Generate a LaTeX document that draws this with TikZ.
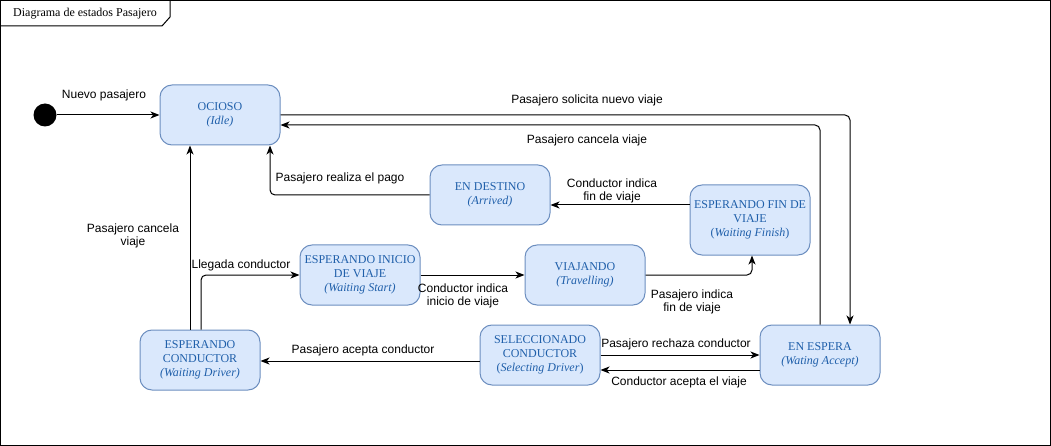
\documentclass[tikz,border=0pt]{standalone}
\usepackage{fontspec}
\setmainfont{Liberation Serif}
\setsansfont{Liberation Sans}
\usetikzlibrary{arrows.meta}
\definecolor{stfill}{HTML}{DAE8FC}
\definecolor{stdraw}{HTML}{6C8EBF}
\definecolor{sttext}{HTML}{1F5FAA}

\begin{document}
\begin{tikzpicture}[x=1pt,y=-1pt,line width=1pt,
    estado/.style={draw=stdraw,fill=stfill,rounded corners=12pt,minimum width=120pt,
      minimum height=60pt,align=center,text=sttext,inner sep=1pt,
      font=\fontsize{12}{14}\selectfont},
    etq/.style={font=\sffamily\fontsize{12}{13.5}\selectfont,align=center,inner sep=1pt},
    flecha/.style={-{Stealth[length=9pt,width=7pt,inset=2.5pt]},rounded corners=5pt}]
      \useasboundingbox (0,0) rectangle (1051,446);
      % marco y pestana del titulo
      \draw (0.5,0.5) rectangle (1050.5,445.5);
      \draw (0.5,26) -- (162,26) -- (170,17) -- (170,0.5);
      \node[font=\fontsize{12}{14}\selectfont] (titulo) at (85,14) {Diagrama de estados Pasajero};
      % estados
      \fill (45,115) circle (11.5) coordinate (inicio);
      \node[estado] (ocioso) at (220,115) {OCIOSO\\\textit{(Idle)}};
      \node[estado] (destino) at (490,195) {EN DESTINO\\\textit{(Arrived)}};
      \node[estado,minimum height=70pt] (espfin) at (750,220) {ESPERANDO FIN DE\\VIAJE\\(\textit{Waiting Finish})};
      \node[estado] (espini) at (360,275) {ESPERANDO INICIO\\DE VIAJE\\\textit{(Waiting Start)}};
      \node[estado] (viajando) at (585,275) {VIAJANDO\\\textit{(Travelling)}};
      \node[estado] (espcond) at (200,360) {ESPERANDO\\CONDUCTOR\\\textit{(Waiting Driver)}};
      \node[estado] (selcond) at (540,355) {SELECCIONADO\\CONDUCTOR\\(\textit{Selecting Driver})};
      \node[estado] (espera) at (820,355) {EN ESPERA\\\textit{(Wating Accept)}};
      % transiciones
      \draw[flecha] (56.5,115) -- (ocioso.west);
      \draw[flecha] (ocioso.east) -- (850,115) -- (espera.north -| 850,0);
      \draw[flecha] (espera.north -| 820,0) -- (820,125) -- (ocioso.east |- 820,125);
      \draw[flecha] (destino.west) -- (270,195) -- (ocioso.south -| 270,0);
      \draw[flecha] (espfin.west |- 0,205) -- (destino.east |- 0,205);
      \draw[flecha] (viajando.east) -- (752,275) -- (espfin.south -| 752,0);
      \draw[flecha] (espini.east) -- (viajando.west);
      \draw[flecha] (espcond.north -| 201,0) -- (201,275) -- (espini.west);
      \draw[flecha] (espcond.north -| 190,0) -- (ocioso.south -| 190,0);
      \draw[flecha] (selcond.west |- 0,361) -- (espcond.east |- 0,361);
      \draw[flecha] (selcond.east) -- (espera.west);
      \draw[flecha] (espera.west |- 0,370) -- (selcond.east |- 0,370);
      % etiquetas
      \node[etq] (lnuevo) at (104,95) {Nuevo pasajero};
      \node[etq] (lsolicita) at (587,100) {Pasajero solicita nuevo viaje};
      \node[etq] (lcancela) at (587,140) {Pasajero cancela viaje};
      \node[etq] (lpago) at (340,178) {Pasajero realiza el pago};
      \node[etq] (lfin) at (612,191) {Conductor indica\\fin de viaje};
      \node[etq] (lpfin) at (692,302) {Pasajero indica\\fin de viaje};
      \node[etq] (linicio) at (463,296) {Conductor indica\\inicio de viaje};
      \node[etq] (lllegada) at (241,265) {Llegada conductor};
      \node[etq] (lcancela2) at (133,236) {Pasajero cancela\\viaje};
      \node[etq] (lacepta) at (363,350) {Pasajero acepta conductor};
      \node[etq] (lrechaza) at (676,344) {Pasajero rechaza conductor};
      \node[etq] (lacepviaje) at (679,382) {Conductor acepta el viaje};
\end{tikzpicture}
\end{document}
